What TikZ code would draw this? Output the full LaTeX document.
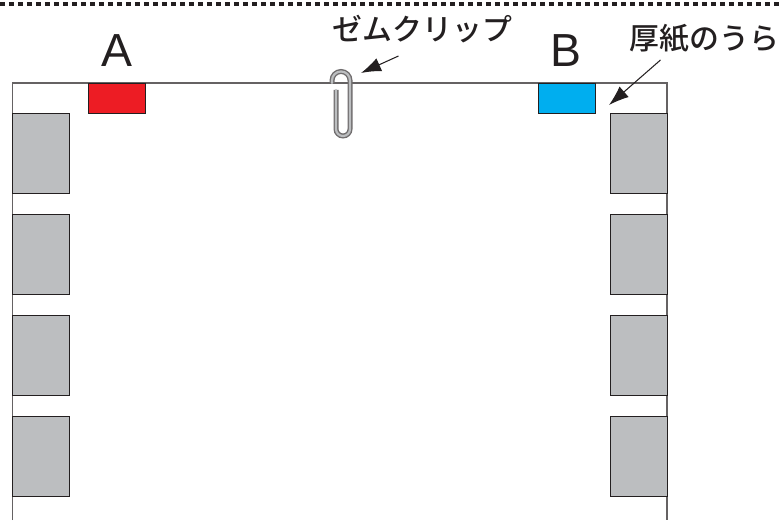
\documentclass[tikz,border=0pt]{standalone}
\usepackage{fontspec}
\setmainfont{Liberation Sans}
\newfontfamily\jpfont{Noto Sans CJK JP Medium}
\usetikzlibrary{arrows.meta}
\definecolor{tabRed}{HTML}{ED1C24}
\definecolor{tabBlue}{HTML}{00AEEF}
\definecolor{tabGray}{HTML}{BCBEC0}
\definecolor{inkDark}{HTML}{231F20}
\tikzset{
  holeBox/.style={shape=rectangle, draw=inkDark, line width=0.25pt, fill=tabGray, inner sep=0pt, minimum width=0.57cm, minimum height=0.8cm},
  tabBox/.style={shape=rectangle, draw=inkDark, line width=0.25pt, inner sep=0pt, minimum width=0.57cm, minimum height=0.3cm},
  letterLabel/.style={inner sep=0pt, text=inkDark, font=\fontsize{13.2pt}{14pt}\selectfont},
  jpLabel/.style={inner sep=0pt, text=inkDark, font=\jpfont\fontsize{8.5pt}{9pt}\selectfont},
  pointer/.style={-{Latex[length=0.2cm,width=0.14cm]}, draw=inkDark, line width=0.3pt}
}
\begin{document}
\begin{tikzpicture}
\useasboundingbox (0,0) rectangle (7.8,5.2);
%%%%%%%%%%%%%%%%%%%%%%%%%%%%%%%%%%%%%%%%%%% cut line
\coordinate (cutL) at (0,5.16);
\coordinate (cutR) at (7.8,5.16);
\draw[inkDark, line width=0.032cm, dash pattern=on 0.055cm off 0.035cm] (cutL) -- (cutR);

%%%%%%%%%%%%%%%%%%%%%%%%%%%%%%%%%%%%%%%%%%% sheet
\draw[inkDark!70, line width=0.3pt] (0.125,0) |- (6.67,4.37) -- (6.67,0);

%%%%% tabs
\node[tabBox, fill=tabRed](tabA) at (1.165,4.22){};
\node[tabBox, fill=tabBlue](tabB) at (5.665,4.22){};
\node[letterLabel](labelA) at (1.165,4.69){A};
\node[letterLabel](labelB) at (5.66,4.69){B};

%%%%% gray boxes
\node[holeBox](boxL1) at (0.41,3.67){};
\node[holeBox](boxL2) at (0.41,2.66){};
\node[holeBox](boxL3) at (0.41,1.65){};
\node[holeBox](boxL4) at (0.41,0.64){};
\node[holeBox](boxR1) at (6.39,3.67){};
\node[holeBox](boxR2) at (6.39,2.66){};
\node[holeBox](boxR3) at (6.39,1.65){};
\node[holeBox](boxR4) at (6.39,0.64){};

%%%%% paper clip
\draw[line width=0.05cm, draw=inkDark!65] (3.32,4.37) -- (3.32,4.395) arc (180:0:0.09) -- (3.50,3.91) arc (0:-180:0.07) -- (3.36,4.30);
\draw[line width=0.022cm, draw=tabGray, line cap=round] (3.32,4.37) -- (3.32,4.395) arc (180:0:0.09) -- (3.50,3.91) arc (0:-180:0.07) -- (3.36,4.30);

%%%%% labels and arrows
\node[jpLabel](clipLabel) at (4.225,4.91){ゼムクリップ};
\node[jpLabel](backLabel) at (7.045,4.81){厚紙のうら};
\coordinate (clipTip) at (3.61,4.47);
\coordinate (backTip) at (6.09,4.15);
\draw[pointer] ([shift={(-0.24,-0.27)}]clipLabel.center) -- (clipTip);
\draw[pointer] ([shift={(-0.44,-0.21)}]backLabel.center) -- (backTip);
\end{tikzpicture}
\end{document}
